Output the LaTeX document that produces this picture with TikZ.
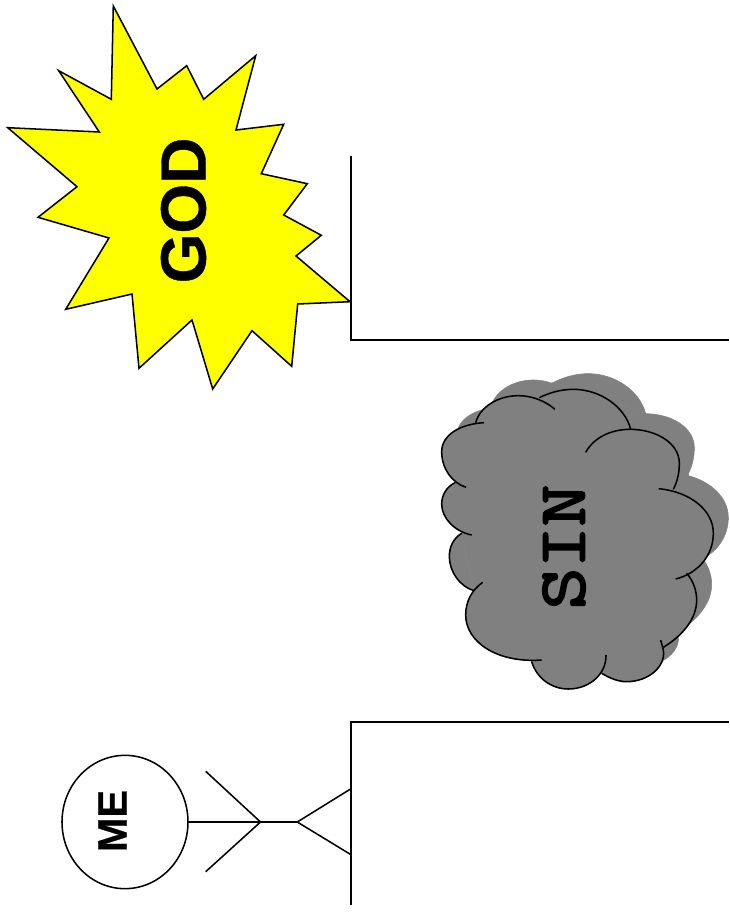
\documentclass[tikz,border=0pt]{standalone}
\usepackage{fontspec}
\setmainfont[BoldFeatures={FakeBold=0.6}]{Liberation Sans}
\newfontfamily\sinfont[FakeBold=3,FakeStretch=1.21]{Latin Modern Mono}
\usetikzlibrary{shapes.geometric}
\definecolor{cloudgray}{HTML}{808080}
\definecolor{burst}{HTML}{FFFF00}
\tikzset{
  ink/.style={line width=1.15pt,line join=miter,draw=black},
  title/.style={inner sep=0pt,rotate=90,font=\bfseries\fontsize{#1}{#1}\selectfont},
  zoomed/.style={x=0.25pt,y=-0.25pt}
}
\newcommand\arcA{(192,188) .. controls (120,192) and (65,225) .. (65,275) .. controls (65,325) and (95,368) .. (138,382)}
\newcommand\arcB{(105,368) .. controls (80,380) and (65,405) .. (65,432) .. controls (65,475) and (105,515) .. (155,525)}
\newcommand\arcC{(125,520) .. controls (100,535) and (88,560) .. (88,590) .. controls (88,635) and (120,680) .. (162,692)}
\newcommand\arcD{(188,667) .. controls (155,690) and (137,725) .. (137,765) .. controls (137,845) and (230,910) .. (365,900)}
\newcommand\arcE{(335,905) .. controls (350,955) and (395,987) .. (445,987) .. controls (510,987) and (560,940) .. (558,885)}
\newcommand\arcF{(545,940) .. controls (570,955) and (595,965) .. (620,965) .. controls (685,965) and (738,920) .. (730,870) -- (722,840)}
\newcommand\arcG{(730,862) .. controls (790,825) and (830,775) .. (830,720) .. controls (830,690) and (818,660) .. (800,640)}
\newcommand\arcH{(767,657) .. controls (835,640) and (880,585) .. (880,520) .. controls (880,450) and (810,395) .. (716,386)}
\newcommand\arcI{(760,388) .. controls (772,365) and (778,338) .. (778,310) .. controls (778,250) and (710,208) .. (630,208) .. controls (570,208) and (520,235) .. (497,277)}
\newcommand\arcJ{(632,208) .. controls (615,140) and (540,88) .. (460,88) .. controls (425,88) and (390,97) .. (358,113)}
\newcommand\arcK{(405,148) .. controls (375,122) and (335,107) .. (295,107) .. controls (235,107) and (180,140) .. (167,188)}
\newcommand\cloudfill{%
  \filldraw (167,188) -- (105,368) -- (125,520) -- (162,692) -- (335,905) -- (545,940) -- (730,862) -- (800,640) -- (760,388) -- (632,208) -- (358,113) -- cycle;
  \filldraw \arcA; \filldraw \arcB; \filldraw \arcC; \filldraw \arcD; \filldraw \arcE; \filldraw \arcF;
  \filldraw \arcG; \filldraw \arcH; \filldraw \arcI; \filldraw \arcJ; \filldraw \arcK;
}
\begin{document}
\begin{tikzpicture}[x=0.75pt,y=-0.75pt]
\useasboundingbox (0,0) rectangle (729,916);
% burst
\draw[ink,fill=burst]
  (113.3,6) -- (157,89) -- (186.7,65.7) -- (203.7,99.3) -- (255.7,55.7) -- (236,130)
  -- (283.7,124.3) -- (261.3,173.7) -- (307.3,183.7) -- (283.7,215) -- (321.3,235.3)
  -- (296,256) -- (350,301.7) -- (297.7,304) -- (291.7,366.3) -- (252,330.7)
  -- (212.7,389) -- (192,320) -- (139,368.3) -- (132,294) -- (65.7,309.3)
  -- (109,238) -- (38,217.3) -- (77,186.7) -- (7.7,127.7) -- (99.3,132)
  -- (58.7,70.7) -- (111.3,99.3) -- cycle;
\node[title=48pt] (god) at (183.5,210.5) {GOD};
% upper frame
\coordinate (ftop) at (351,156);
\coordinate (fcorner) at (351,340);
\coordinate (fright) at (729,340);
\draw[ink] (ftop) -- (fcorner) -- (fright);
% cloud
\begin{scope}[shift={(435,344.3)},zoomed,draw=cloudgray,fill=cloudgray,line width=0.4pt]
  \cloudfill
\end{scope}
\begin{scope}[shift={(420,360)},zoomed,draw=cloudgray,fill=cloudgray,line width=0.4pt]
  \cloudfill
\end{scope}
\begin{scope}[shift={(420,360)},zoomed]
  \draw[ink] \arcA; \draw[ink] \arcB; \draw[ink] \arcC; \draw[ink] \arcD;
  \draw[ink] \arcE; \draw[ink] \arcF; \draw[ink] \arcG; \draw[ink] \arcH;
  \draw[ink] \arcI; \draw[ink] \arcJ; \draw[ink] \arcK;
\end{scope}
\node[inner sep=0pt,rotate=90,font=\sinfont\fontsize{50pt}{50pt}\selectfont] (sin) at (564,547) {SIN};
% lower frame
\coordinate (gright) at (729,722);
\coordinate (gcorner) at (351,722);
\coordinate (gbottom) at (351,905);
\draw[ink] (gright) -- (gcorner) -- (gbottom);
% me
\node[ellipse,ink,rotate=90,inner sep=0pt,minimum width=100pt,minimum height=94.5pt] (me) at (125,822) {};
\node[title=31pt] (melabel) at (112.5,821) {ME};
\coordinate (forkA) at (260.5,822);
\coordinate (forkB) at (297.3,822);
\coordinate (ta) at (205.7,771.3);
\coordinate (tb) at (205.7,871.7);
\coordinate (tc) at (351,788.7);
\coordinate (td) at (351,854.7);
\draw[ink] (me.south) -- (forkA) -- (forkB);
\draw[ink] (ta) -- (forkA) -- (tb);
\draw[ink] (tc) -- (forkB) -- (td);
\end{tikzpicture}
\end{document}
